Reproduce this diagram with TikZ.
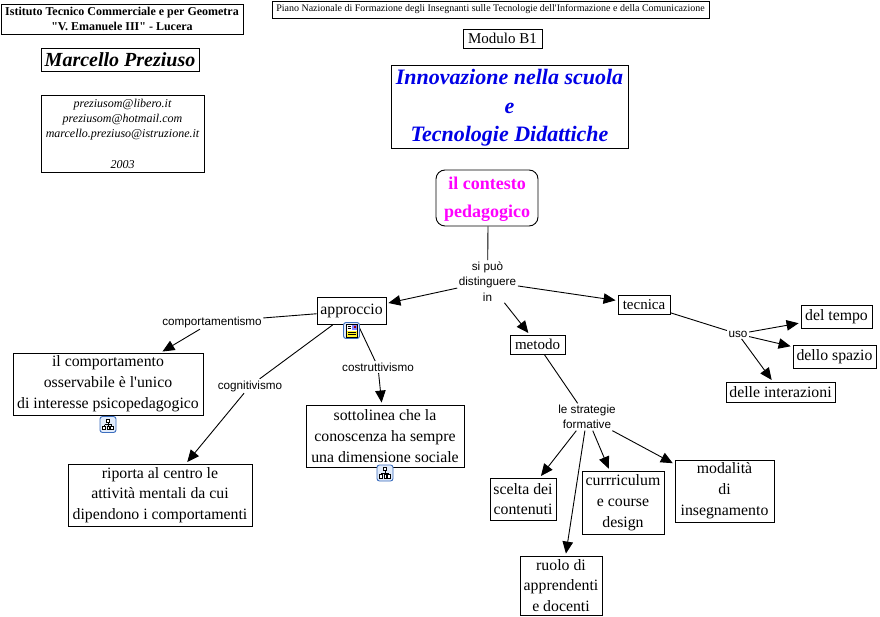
\documentclass[tikz,border=0pt]{standalone}
\usepackage{fontspec}
\setmainfont{Liberation Serif}[Ligatures=TeXOff]
\newfontfamily\lab{Liberation Sans}
\usetikzlibrary{arrows.meta}
\definecolor{iconblue}{RGB}{60,110,190}
\definecolor{iconfill}{RGB}{225,235,250}
\definecolor{ctxmag}{RGB}{255,0,255}
\definecolor{innblue}{RGB}{0,0,230}
\tikzset{
  x=1pt,y=-1pt,
  box/.style={draw=black,line width=0.9pt,fill=white,align=center,inner sep=0pt,font=\fontsize{15.8}{20.8}\selectfont},
  lbl/.style={fill=white,align=center,inner sep=1.5pt,font=\lab\fontsize{11.7}{15.3}\selectfont},
  conn/.style={line width=0.9pt},
  arr/.style={line width=0.9pt,shorten >=2pt,-{Triangle[length=12pt,width=10.5pt]}},
  iconb/.style={draw=iconblue,line width=0.9pt,fill=iconfill,rounded corners=2.5pt,minimum width=16pt,minimum height=16pt,inner sep=0pt}
}
\newcommand{\treeicon}[1]{%
  \begin{scope}[shift={(#1)},line width=0.7pt,black]
    \draw (0,-3) -- (0,0) (-3.5,0) -- (3.5,0) (-3.5,0) -- (-3.5,2) (3.5,0) -- (3.5,2) (0,0) -- (0,2);
    \draw[fill=white] (-1.6,-5.4) rectangle (1.6,-2.6);
    \draw[fill=white] (-5.2,1.8) rectangle (-2.4,5) (2.4,1.8) rectangle (5.2,5) (-1.1,1.8) rectangle (1.1,5);
  \end{scope}}
\begin{document}
\begin{tikzpicture}
\useasboundingbox (0,0) rectangle (880,617);
\fill[white] (0,0) rectangle (880,617);
\node[box,minimum width=242pt,minimum height=30pt,font=\bfseries\fontsize{12}{15}\selectfont] (ist) at (122,19) {Istituto Tecnico Commerciale e per Geometra\\"V. Emanuele III" - Lucera};
\node[box,minimum width=158pt,minimum height=23pt,font=\bfseries\itshape\fontsize{20}{24}\selectfont] (name) at (120,60) {Marcello Preziuso};
\node[box,minimum width=163pt,minimum height=77pt,font=\itshape\fontsize{12}{15.2}\selectfont] (mail) at (122.5,133.5) {preziusom@libero.it\\preziusom@hotmail.com\\marcello.preziuso@istruzione.it\\[15.2pt]2003};
\node[box,minimum width=437pt,minimum height=17pt,font=\fontsize{10}{12}\selectfont] (piano) at (490.5,9.5) {Piano Nazionale di Formazione degli Insegnanti sulle Tecnologie dell'Informazione e della Comunicazione};
\node[box,minimum width=79pt,minimum height=19pt,font=\fontsize{15}{18}\selectfont] (mod) at (502.5,38.5) {Modulo B1};
\node[box,minimum width=237pt,minimum height=83pt,text=innblue,font=\bfseries\itshape\fontsize{22}{28.5}\selectfont] (inn) at (509.5,106.5) {\rule{0pt}{18pt}Innovazione nella scuola\\e\\Tecnologie Didattiche};
\node[box,rounded corners=9pt,minimum width=102pt,minimum height=56pt,text=ctxmag,font=\bfseries\fontsize{18}{28}\selectfont] (ctx) at (487,198) {\rule{0pt}{15.5pt}il contesto\\pedagogico};

\node[box,minimum width=69pt,minimum height=27pt] (app) at (351.5,311) {\raisebox{2pt}{approccio}};
\node[box,minimum width=52pt,minimum height=19pt,font=\fontsize{15}{18}\selectfont] (tec) at (644,304.5) {tecnica};
\node[box,minimum width=55pt,minimum height=19pt,font=\fontsize{15}{18}\selectfont] (met) at (537.5,344.5) {metodo};
\node[box,minimum width=71pt,minimum height=23pt] (tem) at (836.5,316.5) {del tempo};
\node[box,minimum width=83pt,minimum height=23pt] (spa) at (834.5,356.5) {dello spazio};
\node[box,minimum width=109pt,minimum height=20pt] (int) at (780.5,392) {delle interazioni};
\node[box,minimum width=190pt,minimum height=62pt] (com) at (108,384) {il comportamento\\osservabile è l'unico\\di interesse psicopedagogico};
\node[box,minimum width=184pt,minimum height=62pt] (rip) at (160,495) {riporta al centro le\\attività mentali da cui\\dipendono i comportamenti};
\node[box,minimum width=158pt,minimum height=62pt] (sot) at (385,436) {sottolinea che la\\conoscenza ha sempre\\una dimensione sociale};
\node[box,minimum width=66pt,minimum height=42pt] (sce) at (523,499) {scelta dei\\contenuti};
\node[box,minimum width=82pt,minimum height=63pt] (cur) at (623,502.5) {currriculum\\e course\\design};
\node[box,minimum width=99pt,minimum height=62pt] (mda) at (724.5,491) {modalità\\di\\insegnamento};
\node[box,minimum width=82pt,minimum height=59pt] (ruo) at (561,585.5) {ruolo di\\apprendenti\\e docenti};

\node[lbl] (l1) at (487.5,281.5) {si può\\distinguere\\in};
\node[lbl] (l2) at (212,322) {comportamentismo};
\node[lbl] (l3) at (250,386) {cognitivismo};
\node[lbl] (l4) at (378,367) {costruttivismo};
\node[lbl] (l5) at (738,334) {uso};
\node[lbl] (l6) at (587,417) {le strategie\\formative};

\draw[conn] (ctx.south) ++(1,0) coordinate (c0) (c0) -- (l1);
\draw[arr] (l1) -- (app);
\draw[arr] (l1) -- (tec);
\draw[arr] (l1) -- (met);
\draw[conn] (app) -- (l2);
\draw[arr] (l2) -- (com);
\draw[conn] (app) -- (l3);
\draw[arr] (l3) -- (rip);
\draw[conn] (app) -- (l4);
\draw[arr] (l4) -- (sot);
\draw[conn] (tec) -- (l5);
\draw[arr] (l5) -- (tem);
\draw[arr] (l5) -- (spa);
\draw[arr] (l5) -- (int);
\draw[conn] (met) -- (l6);
\draw[arr] (l6) -- (sce);
\draw[arr] (l6) -- (cur);
\draw[arr] (l6) -- (mda);
\draw[arr] (l6) -- (ruo);

\node[iconb] (ic1) at (351.5,330.5) {};
\fill[white] (346.5,324) rectangle (357,337);
\fill[yellow!85!white] (346.5,331) rectangle (357,337);
\fill[blue!50] (352,324.5) rectangle (357,330);
\fill[red!60!black] (354,326) rectangle (356,328);
\draw[black,line width=0.6pt] (346.5,324) rectangle (357,337);
\draw[black,line width=0.6pt] (347.5,326.5) -- (351,326.5) (347.5,328.5) -- (351,328.5) (348,332) -- (356,332) (348,334) -- (356,334);
\node[iconb] (ic2) at (108,424.5) {};
\treeicon{108,424.5}
\node[iconb] (ic3) at (385,473) {};
\treeicon{385,473}
\end{tikzpicture}
\end{document}
